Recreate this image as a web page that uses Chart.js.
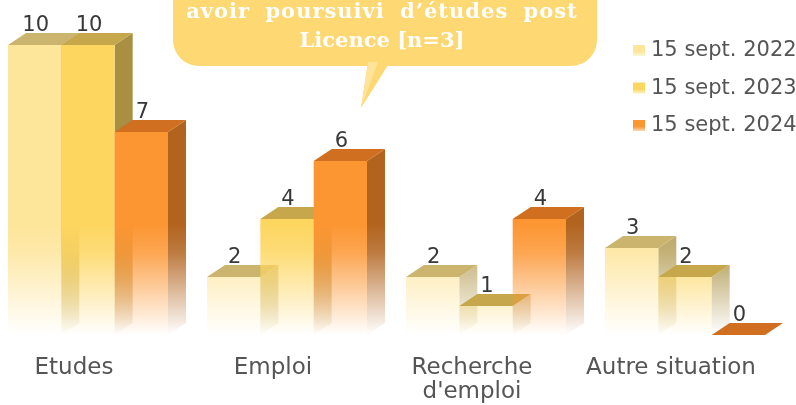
<!DOCTYPE html>
<html>
<head>
<meta charset="utf-8">
<script src="https://cdn.jsdelivr.net/npm/chart.js@4.4.1/dist/chart.umd.min.js"></script>
<style>
  html, body { margin: 0; padding: 0; background: #fff; }
  #wrap { width: 796px; height: 405px; position: relative; }
</style>
</head>
<body>
<div id="wrap"><canvas id="c"></canvas></div>
<script>
const categories = ["Etudes", "Emploi", ["Recherche", "d'emploi"], "Autre situation"];
const seriesNames = ["15 sept. 2022", "15 sept. 2023", "15 sept. 2024"];
const values2022 = [10, 2, 2, 3];
const values2023 = [10, 4, 1, 2];
const values2024 = [7, 6, 4, 0];
const calloutLines = ["avoir poursuivi d\u2019\u00e9tudes post", "Licence [n=3]"];

// couleurs face avant / dessus / côté
const faces = [
  { front: [253, 229, 154], top: "#cbb46e", side: [185, 163, 95] },
  { front: [253, 214, 96], top: "#c6a74c", side: [168, 143, 66] },
  { front: [252, 150, 51], top: "#cf6f1f", side: [178, 100, 31] },
];
const DX = 18, DY = 12;

function fadeGrad(ctx, rgb, yTop, yBase) {
  const g = ctx.createLinearGradient(0, yTop, 0, yBase);
  const c = (a) => `rgba(${rgb[0]},${rgb[1]},${rgb[2]},${a})`;
  g.addColorStop(0, c(1));
  g.addColorStop(0.25, c(0.85));
  g.addColorStop(0.6, c(0.45));
  g.addColorStop(1, c(0));
  return g;
}

function drawBar(ctx, el, f, fadeTop) {
  const { x, y, base, width } = el.getProps(["x", "y", "base", "width"], true);
  const l = x - width / 2, r = x + width / 2;
  // côté
  ctx.fillStyle = fadeGrad(ctx, f.side, fadeTop, base);
  ctx.beginPath();
  ctx.moveTo(r, y);
  ctx.lineTo(r + DX, y - DY);
  ctx.lineTo(r + DX, base - DY);
  ctx.lineTo(r, base);
  ctx.closePath();
  ctx.fill();
  // dessus
  ctx.fillStyle = f.top;
  ctx.beginPath();
  ctx.moveTo(l, y);
  ctx.lineTo(l + DX, y - DY);
  ctx.lineTo(r + DX, y - DY);
  ctx.lineTo(r, y);
  ctx.closePath();
  ctx.fill();
  // face avant
  if (base - y > 0.5) {
    ctx.fillStyle = fadeGrad(ctx, f.front, fadeTop, base);
    ctx.fillRect(l, y, r - l, base - y);
  }
}

const bars3d = {
  id: "bars3d",
  beforeDatasetsDraw(chart) {
    const ctx = chart.ctx;
    const fadeTop = chart.chartArea.bottom - 110;
    ctx.save();
    chart.data.datasets.forEach((ds, i) => {
      chart.getDatasetMeta(i).data.forEach((el) => drawBar(ctx, el, faces[i], fadeTop));
    });
    ctx.restore();
  },
  beforeDatasetDraw() {
    return false;
  },
  afterDatasetsDraw(chart) {
    const ctx = chart.ctx;
    ctx.save();
    ctx.font = "21px 'DejaVu Sans'";
    ctx.fillStyle = "#383838";
    ctx.textAlign = "center";
    ctx.textBaseline = "alphabetic";
    chart.data.datasets.forEach((ds, i) => {
      chart.getDatasetMeta(i).data.forEach((el, j) => {
        const { x, y } = el.getProps(["x", "y"], true);
        ctx.fillText(String(ds.data[j]), x + 1, y - 14);
      });
    });
    ctx.restore();
  },
};

const legendCallout = {
  id: "legendCallout",
  afterDraw(chart) {
    const ctx = chart.ctx;
    ctx.save();
    // légende
    ctx.font = "21px 'DejaVu Sans'";
    ctx.textBaseline = "middle";
    ctx.textAlign = "left";
    chart.data.datasets.forEach((ds, i) => {
      const cy = 50 + i * 37.5;
      const rgb = faces[i].front;
      const g = ctx.createLinearGradient(0, cy - 5, 0, cy + 6);
      g.addColorStop(0, `rgb(${rgb})`);
      g.addColorStop(0.6, `rgb(${rgb})`);
      g.addColorStop(1, `rgba(${rgb},0.35)`);
      ctx.fillStyle = g;
      ctx.fillRect(633, cy - 5, 12, 11);
      ctx.fillStyle = "#555";
      ctx.fillText(ds.label, 651, cy + 1);
    });
    // bulle
    ctx.fillStyle = "#fdd873";
    ctx.beginPath();
    ctx.roundRect(173, -40, 424, 106, 26);
    ctx.fill();
    ctx.beginPath();
    ctx.moveTo(368, 62);
    ctx.lineTo(390, 62);
    ctx.lineTo(361, 108);
    ctx.closePath();
    ctx.fill();
    ctx.fillStyle = "#fee49a";
    ctx.beginPath();
    ctx.moveTo(368, 62);
    ctx.lineTo(378, 62);
    ctx.lineTo(361, 108);
    ctx.closePath();
    ctx.fill();
    ctx.fillStyle = "#fff";
    ctx.textAlign = "center";
    ctx.font = "bold 21px 'DejaVu Serif'";
    ctx.letterSpacing = "1px";
    ctx.wordSpacing = "7px";
    ctx.fillText(calloutLines[0], 382, 13);
    ctx.letterSpacing = "0px";
    ctx.wordSpacing = "0px";
    ctx.fillText(calloutLines[1], 382, 42);
    ctx.restore();
  },
};

const datasets = [values2022, values2023, values2024].map((data, i) => ({
  label: seriesNames[i],
  data,
  backgroundColor: "transparent",
  categoryPercentage: 0.804,
  barPercentage: 1,
}));

new Chart(document.getElementById("c"), {
  type: "bar",
  data: { labels: categories, datasets },
  plugins: [bars3d, legendCallout],
  options: {
    responsive: true,
    maintainAspectRatio: false,
    animation: false,
    layout: { padding: { top: 16, left: 88, right: 111, bottom: 1 } },
    plugins: { legend: { display: false }, tooltip: { enabled: false } },
    scales: {
      x: {
        offset: false,
        grid: { display: false, drawTicks: false },
        border: { display: false },
        ticks: {
          color: "#555",
          font: { family: "'DejaVu Sans'", size: 23, lineHeight: 1.05 },
          padding: 21,
          labelOffset: -14,
          maxRotation: 0,
          autoSkip: false,
        },
        afterFit(scale) {
          scale.height = 69;
        },
      },
      y: { display: false, min: 0, max: 11 },
    },
  },
});
</script>
</body>
</html>
